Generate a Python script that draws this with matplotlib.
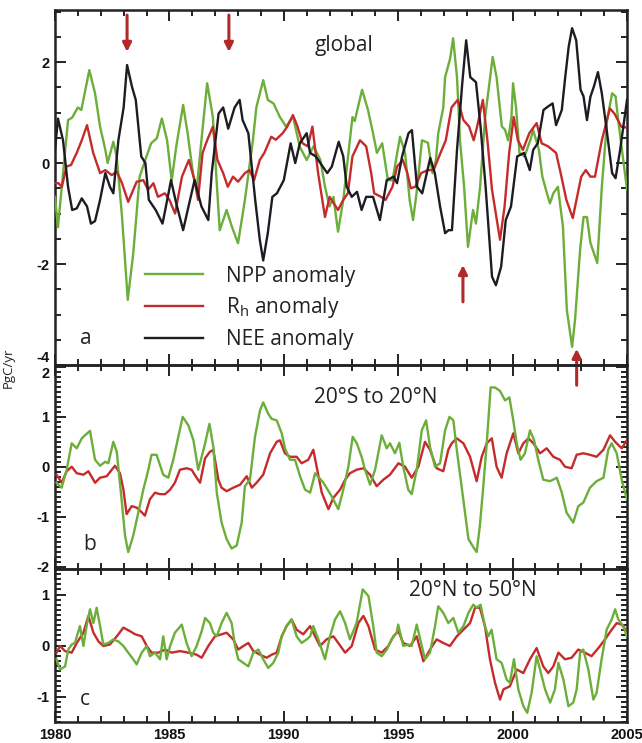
import matplotlib
matplotlib.use("Agg")
import matplotlib.pyplot as plt
from matplotlib.ticker import MultipleLocator, FixedLocator
import numpy as np

plt.rcParams['font.family'] = ['Open Sans', 'DejaVu Sans']
plt.rcParams['mathtext.fontset'] = 'custom'
plt.rcParams['mathtext.rm'] = 'Open Sans'
plt.rcParams['mathtext.it'] = 'Open Sans'
plt.rcParams['axes.unicode_minus'] = False

GREEN = '#6cae3a'
RED = '#c52b2b'
BLACK = '#1c1c22'
ARROW = '#b3292b'

# ---- panel a: global ----
npp_a_t = [1980.0, 1980.13, 1980.57, 1980.75, 1981.0, 1981.15, 1981.5, 1981.75, 1981.97, 1982.2, 1982.3,
           1982.55, 1982.7, 1982.93, 1983.18, 1983.42, 1983.7, 1984.0, 1984.2, 1984.45, 1984.67, 1984.9,
           1985.1, 1985.3, 1985.6, 1985.8, 1986.05, 1986.2, 1986.4, 1986.65, 1986.9, 1987.07, 1987.2,
           1987.5, 1987.73, 1988.0, 1988.3, 1988.65, 1988.8, 1989.1, 1989.3, 1989.55, 1989.83, 1990.1,
           1990.4, 1990.7, 1991.0, 1991.3, 1991.6, 1991.8, 1992.0, 1992.17, 1992.37, 1992.6, 1993.0,
           1993.1, 1993.42, 1993.68, 1993.9, 1994.07, 1994.3, 1994.55, 1994.75, 1995.08, 1995.3, 1995.5,
           1995.65, 1995.8, 1996.04, 1996.3, 1996.5, 1996.65, 1996.75, 1996.97, 1997.05, 1997.27, 1997.4,
           1997.57, 1997.7, 1997.88, 1998.05, 1998.27, 1998.4, 1998.58, 1998.8, 1999.13, 1999.3, 1999.53,
           1999.67, 1999.8, 1999.95, 2000.02, 2000.15, 2000.3, 2000.52, 2000.77, 2000.9, 2001.15, 2001.3,
           2001.5, 2001.63, 2001.78, 2001.98, 2002.2, 2002.37, 2002.6, 2002.73, 2002.95, 2003.1, 2003.25,
           2003.4, 2003.7, 2003.9, 2004.13, 2004.35, 2004.5, 2004.6, 2004.78, 2005.0]
npp_a = [-0.67, -1.27, 0.85, 0.9, 1.1, 1.05, 1.84, 1.38, 0.72, 0.26, 0.0,
         0.42, 0.12, -1.07, -2.71, -1.79, -0.27, 0.13, 0.39, 0.49, 0.88, 0.45,
         -0.35, 0.33, 1.15, 0.58, -0.27, -0.5, 0.45, 1.58, 0.91, -0.4, -1.33,
         -0.93, -1.26, -1.59, -0.73, 0.45, 1.1, 1.64, 1.25, 1.18, 0.91, 0.72,
         0.92, 0.32, 0.06, 0.33, 0.06, -0.47, -0.86, -0.67, -1.36, -0.73, 0.91,
         0.83, 1.45, 1.05, 0.59, 0.2, 0.39, -0.34, -0.34, 0.52, 0.2, -0.73,
         -1.13, -0.6, 0.45, 0.4, -0.2, 0.06, 0.59, 1.1, 1.7, 2.07, 2.47,
         1.7, 0.45, -0.47, -1.66, -0.93, -1.2, -0.47, 0.91, 2.1, 1.7, 0.72,
         0.66, 0.45, 0.91, 1.58, 1.1, 0.2, 0.13, 0.45, 0.65, 0.26, -0.27,
         -0.6, -0.8, -0.6, -0.47, -1.26, -2.91, -3.64, -3.1, -1.72, -1.07, -1.07,
         -1.58, -1.98, -0.47, 0.85, 1.38, 1.32, 0.91, 0.26, -0.53]

rh_a_t = [1980.0, 1980.15, 1980.3, 1980.5, 1980.7, 1980.95, 1981.17, 1981.4, 1981.67, 1981.97, 1982.2,
          1982.48, 1982.7, 1982.93, 1983.2, 1983.42, 1983.57, 1983.86, 1984.07, 1984.3, 1984.5, 1984.8,
          1985.0, 1985.25, 1985.55, 1985.85, 1986.1, 1986.25, 1986.45, 1986.65, 1986.9, 1987.1, 1987.35,
          1987.55, 1987.78, 1988.0, 1988.3, 1988.5, 1988.7, 1988.95, 1989.15, 1989.45, 1989.65, 1989.95,
          1990.15, 1990.4, 1990.6, 1990.82, 1991.05, 1991.25, 1991.5, 1991.8, 1992.0, 1992.37, 1992.6,
          1992.8, 1993.0, 1993.33, 1993.6, 1993.82, 1993.95, 1994.25, 1994.45, 1994.75, 1994.95, 1995.2,
          1995.4, 1995.55, 1995.75, 1996.0, 1996.3, 1996.55, 1996.85, 1997.08, 1997.33, 1997.6, 1997.85,
          1998.1, 1998.3, 1998.45, 1998.7, 1998.9, 1999.1, 1999.45, 1999.65, 1999.85, 2000.05, 2000.23,
          2000.45, 2000.73, 2001.05, 2001.27, 2001.55, 2001.9, 2002.1, 2002.35, 2002.63, 2002.85, 2003.0,
          2003.2, 2003.4, 2003.6, 2003.9, 2004.25, 2004.45, 2004.75, 2005.0]
rh_a = [-0.4, -0.4, -0.47, -0.07, -0.04, 0.2, 0.45, 0.75, 0.2, -0.2, -0.14,
        -0.24, -0.17, -0.4, -0.77, -0.53, -0.37, -0.34, -0.53, -0.4, -0.67, -0.6,
        -0.73, -1.0, -0.27, 0.06, -0.34, -0.73, 0.2, 0.45, 0.72, 0.06, -0.2,
        -0.47, -0.27, -0.37, -0.2, -0.14, -0.34, 0.06, 0.2, 0.52, 0.46, 0.59,
        0.72, 0.95, 0.72, 0.39, 0.33, 0.72, -0.2, -1.07, -0.67, -0.93, -0.73,
        -0.6, 0.13, 0.45, 0.33, -0.2, -0.6, -0.67, -0.73, -0.47, -0.07, 0.06,
        -0.2, -0.5, -0.47, -0.2, -0.14, -0.14, 0.2, 0.45, 1.1, 1.25, 0.85,
        0.72, 0.45, 0.72, 1.25, 0.45, -0.53, -1.52, -0.86, 0.2, 0.91, 0.45,
        0.26, 0.59, 0.79, 0.39, 0.33, 0.2, -0.2, -0.73, -1.09, -0.6, -0.27,
        -0.14, -0.27, -0.27, 0.45, 1.08, 0.98, 0.72, 0.7]

nee_a_t = [1980.0, 1980.13, 1980.35, 1980.57, 1980.75, 1980.95, 1981.17, 1981.4, 1981.57, 1981.75, 1981.97,
           1982.2, 1982.4, 1982.55, 1982.77, 1983.0, 1983.15, 1983.37, 1983.53, 1983.77, 1983.95, 1984.1,
           1984.4, 1984.7, 1984.93, 1985.07, 1985.3, 1985.6, 1985.8, 1986.1, 1986.4, 1986.7, 1986.85,
           1987.15, 1987.35, 1987.57, 1987.85, 1988.07, 1988.2, 1988.45, 1988.75, 1988.95, 1989.1, 1989.3,
           1989.5, 1989.7, 1990.0, 1990.3, 1990.5, 1990.7, 1991.0, 1991.15, 1991.4, 1991.7, 1991.9,
           1992.1, 1992.4, 1992.6, 1992.75, 1992.97, 1993.2, 1993.4, 1993.6, 1993.9, 1994.2, 1994.5,
           1994.8, 1994.95, 1995.17, 1995.45, 1995.6, 1995.82, 1996.05, 1996.25, 1996.4, 1996.6, 1996.83,
           1997.05, 1997.2, 1997.35, 1997.57, 1997.8, 1997.97, 1998.15, 1998.4, 1998.6, 1998.82, 1999.1,
           1999.27, 1999.5, 1999.7, 1999.93, 2000.2, 2000.5, 2000.75, 2000.9, 2001.1, 2001.35, 2001.55,
           2001.75, 2001.9, 2002.15, 2002.3, 2002.45, 2002.6, 2002.78, 2002.97, 2003.1, 2003.25, 2003.4,
           2003.55, 2003.73, 2003.9, 2004.13, 2004.35, 2004.5, 2004.7, 2005.0]
nee_a = [0.26, 0.88, 0.45, -0.47, -0.93, -0.9, -0.7, -0.86, -1.2, -1.15, -0.73,
         -0.2, -0.47, -0.6, 0.45, 1.1, 1.94, 1.5, 1.25, 0.13, 0.0, -0.73,
         -0.93, -1.2, -0.67, -0.34, -0.8, -1.33, -0.93, -0.34, -0.86, -1.13, -0.2,
         0.98, 1.1, 0.68, 1.1, 1.25, 0.85, 0.59, -0.73, -1.52, -1.93, -1.39,
         -0.67, -0.6, -0.34, 0.39, 0.0, 0.39, 0.59, 0.2, 0.13, -0.07, -0.2,
         -0.07, 0.42, 0.13, -0.47, -0.67, -0.57, -0.93, -0.67, -0.67, -1.13, -0.34,
         -0.27, -0.4, 0.13, 0.59, 0.65, -0.47, -0.6, -0.2, 0.1, -0.2, -0.86,
         -1.39, -1.33, -1.33, 0.26, 1.58, 2.43, 1.7, 1.6, 0.72, -0.47, -2.25,
         -2.42, -2.05, -1.13, -0.86, 0.13, 0.2, -0.14, 0.26, 0.39, 1.05, 1.12,
         1.18, 0.75, 1.05, 1.7, 2.3, 2.67, 2.43, 1.45, 1.32, 0.85, 1.31,
         1.51, 1.8, 1.38, 0.59, -0.2, -0.3, 0.26, 1.25]

# ---- panel b: 20S to 20N ----
npp_b_t = [1980.07, 1980.29, 1980.51, 1980.73, 1980.95, 1981.17, 1981.31, 1981.53, 1981.75, 1981.97, 1982.19,
           1982.33, 1982.55, 1982.7, 1982.91, 1983.06, 1983.2, 1983.42, 1983.64, 1983.86, 1984.08, 1984.22,
           1984.44, 1984.73, 1984.95, 1985.17, 1985.39, 1985.58, 1985.83, 1986.05, 1986.26, 1986.41, 1986.56,
           1986.75, 1986.92, 1987.07, 1987.28, 1987.5, 1987.72, 1987.94, 1988.16, 1988.3, 1988.52, 1988.74,
           1988.96, 1989.1, 1989.32, 1989.47, 1989.69, 1989.91, 1990.05, 1990.27, 1990.49, 1990.71, 1990.93,
           1991.15, 1991.37, 1991.73, 1992.09, 1992.38, 1992.6, 1992.82, 1993.01, 1993.19, 1993.4, 1993.55,
           1993.77, 1993.99, 1994.28, 1994.5, 1994.64, 1994.86, 1995.05, 1995.22, 1995.44, 1995.59, 1995.81,
           1996.03, 1996.22, 1996.39, 1996.61, 1996.83, 1997.05, 1997.24, 1997.41, 1997.56, 1997.77, 1997.92,
           1998.07, 1998.28, 1998.43, 1998.57, 1998.72, 1998.87, 1999.04, 1999.23, 1999.45, 1999.67, 1999.86,
           2000.03, 2000.18, 2000.35, 2000.54, 2000.76, 2000.94, 2001.12, 2001.34, 2001.64, 2001.93, 2002.15,
           2002.36, 2002.65, 2002.87, 2003.09, 2003.38, 2003.67, 2003.97, 2004.18, 2004.33, 2004.55, 2004.77,
           2004.99]
npp_b = [-0.32, -0.42, -0.06, 0.47, 0.37, 0.57, 0.63, 0.72, 0.14, 0.02, 0.1,
         0.07, 0.5, 0.3, -0.65, -1.38, -1.71, -1.38, -0.92, -0.46, -0.06, 0.24,
         0.24, -0.16, -0.22, 0.14, 0.6, 1.0, 0.83, 0.53, -0.06, 0.2, 0.47,
         0.86, 0.4, -0.52, -1.12, -1.45, -1.64, -1.58, -1.12, -0.39, -0.26, 0.6,
         1.13, 1.29, 1.06, 0.96, 0.93, 0.67, 0.37, 0.14, 0.14, -0.19, -0.46,
         -0.52, -0.13, -0.32, -0.59, -0.85, -0.46, 0.0, 0.6, 0.47, 0.2, -0.06,
         -0.36, -0.06, 0.63, 0.37, 0.47, 0.27, 0.48, 0.0, -0.46, -0.55, -0.06,
         0.73, 0.93, 0.4, 0.0, 0.07, 0.73, 1.0, 0.93, 0.34, -0.39, -0.92,
         -1.45, -1.61, -1.71, -1.18, -0.39, 0.47, 1.59, 1.59, 1.52, 1.33, 1.39,
         0.93, 0.47, 0.14, 0.27, 0.73, 0.53, 0.14, -0.26, -0.29, -0.22, -0.52,
         -0.92, -1.12, -0.79, -0.72, -0.42, -0.29, -0.22, 0.34, 0.47, 0.27, -0.26,
         -0.65]

rh_b_t = [1980.07, 1980.29, 1980.51, 1980.73, 1980.95, 1981.24, 1981.46, 1981.75, 1981.97, 1982.26, 1982.62,
          1982.84, 1982.99, 1983.13, 1983.35, 1983.57, 1983.72, 1983.93, 1984.15, 1984.37, 1984.59, 1984.81,
          1985.03, 1985.24, 1985.46, 1985.75, 1985.97, 1986.19, 1986.34, 1986.56, 1986.77, 1986.92, 1987.14,
          1987.28, 1987.5, 1987.79, 1988.09, 1988.38, 1988.6, 1988.81, 1989.1, 1989.4, 1989.69, 1989.83,
          1990.05, 1990.27, 1990.56, 1990.78, 1991.07, 1991.29, 1991.66, 1991.95, 1992.17, 1992.46, 1992.68,
          1992.89, 1993.18, 1993.48, 1993.77, 1994.06, 1994.35, 1994.64, 1995.01, 1995.3, 1995.59, 1995.88,
          1996.17, 1996.39, 1996.68, 1996.97, 1997.19, 1997.34, 1997.56, 1997.85, 1998.14, 1998.43, 1998.65,
          1998.87, 1999.09, 1999.3, 1999.52, 1999.74, 2000.03, 2000.25, 2000.47, 2000.69, 2000.91, 2001.2,
          2001.49, 2001.78, 2002.07, 2002.29, 2002.58, 2002.8, 2003.09, 2003.38, 2003.67, 2003.97, 2004.26,
          2004.48, 2004.77, 2004.99]
rh_b = [-0.16, -0.32, -0.09, 0.0, -0.13, -0.16, -0.09, -0.32, -0.22, -0.19, 0.02,
        -0.13, -0.46, -0.95, -0.79, -0.82, -0.88, -0.98, -0.65, -0.52, -0.55, -0.55,
        -0.46, -0.32, -0.06, -0.03, -0.06, -0.22, -0.32, 0.17, 0.3, 0.34, -0.26,
        -0.42, -0.49, -0.42, -0.36, -0.19, -0.42, -0.32, -0.16, 0.27, 0.5, 0.53,
        0.27, 0.2, 0.2, 0.07, 0.14, 0.34, -0.52, -0.85, -0.62, -0.46, -0.26,
        -0.13, -0.06, -0.03, -0.16, -0.39, -0.26, -0.16, 0.07, 0.0, -0.22, 0.0,
        0.5, 0.34, -0.03, -0.09, 0.34, 0.47, 0.57, 0.47, 0.2, -0.29, 0.2,
        0.47, 0.57, 0.0, -0.22, 0.27, 0.67, 0.27, 0.47, 0.57, 0.47, 0.27,
        0.37, 0.2, 0.14, 0.0, -0.03, 0.24, 0.27, 0.24, 0.2, 0.34, 0.63,
        0.5, 0.37, 0.53]

# ---- panel c: 20N to 50N ----
npp_c_t = [1980.07, 1980.22, 1980.44, 1980.58, 1980.73, 1980.87, 1981.09, 1981.24, 1981.38, 1981.53, 1981.68,
           1981.82, 1981.97, 1982.11, 1982.33, 1982.55, 1982.77, 1982.99, 1983.2, 1983.42, 1983.57, 1983.79,
           1984.01, 1984.15, 1984.37, 1984.59, 1984.73, 1984.88, 1985.03, 1985.24, 1985.54, 1985.75, 1985.97,
           1986.19, 1986.41, 1986.56, 1986.77, 1986.92, 1987.07, 1987.28, 1987.5, 1987.72, 1987.87, 1988.01,
           1988.23, 1988.45, 1988.67, 1988.89, 1989.1, 1989.32, 1989.54, 1989.76, 1989.91, 1990.12, 1990.34,
           1990.56, 1990.78, 1991.0, 1991.15, 1991.29, 1991.51, 1991.8, 1992.02, 1992.24, 1992.46, 1992.68,
           1992.89, 1993.18, 1993.45, 1993.7, 1993.91, 1994.06, 1994.28, 1994.5, 1994.71, 1994.93, 1995.0,
           1995.22, 1995.44, 1995.59, 1995.81, 1996.03, 1996.17, 1996.39, 1996.61, 1996.75, 1996.97, 1997.19,
           1997.41, 1997.63, 1997.85, 1998.07, 1998.28, 1998.43, 1998.6, 1998.79, 1998.94, 1999.08, 1999.3,
           1999.52, 1999.74, 1999.88, 2000.06, 2000.25, 2000.47, 2000.64, 2000.83, 2001.05, 2001.2, 2001.42,
           2001.64, 2001.85, 2002.0, 2002.22, 2002.44, 2002.65, 2002.8, 2002.95, 2003.09, 2003.31, 2003.53,
           2003.67, 2003.89, 2004.11, 2004.33, 2004.48, 2004.62, 2004.84, 2004.99]
npp_c = [-0.27, -0.47, -0.41, -0.08, 0.02, 0.05, 0.38, -0.01, 0.38, 0.71, 0.44,
         0.74, 0.38, 0.02, 0.05, 0.12, 0.08, -0.01, -0.14, -0.27, -0.37, -0.14,
         -0.01, -0.21, -0.14, -0.27, 0.18, -0.27, -0.01, 0.25, 0.41, 0.05, -0.21,
         -0.01, 0.28, 0.54, 0.44, 0.25, 0.18, 0.44, 0.64, 0.44, -0.01, -0.27,
         -0.34, -0.41, -0.14, -0.08, -0.27, -0.44, -0.34, -0.14, 0.18, 0.38, 0.51,
         0.18, 0.05, 0.12, 0.18, 0.38, 0.12, -0.27, 0.18, 0.51, 0.67, 0.44,
         0.12, 0.44, 1.1, 0.97, 0.38, -0.14, -0.21, -0.08, 0.12, 0.25, 0.41,
         -0.01, 0.02, -0.01, 0.41, -0.01, -0.27, -0.14, 0.38, 0.77, 0.64, 0.44,
         0.54, 0.25, 0.38, 0.64, 0.8, 0.74, 0.8, 0.38, 0.18, 0.31, -0.27,
         -0.34, -0.67, -0.73, -0.27, -0.86, -1.19, -1.32, -0.93, -0.21, -0.47, -0.86,
         -1.12, -0.86, -0.34, -0.67, -1.19, -1.12, -0.86, -0.14, -0.08, -0.47, -1.06,
         -0.93, -0.27, 0.31, 0.51, 0.71, 0.51, 0.38, 0.18]

rh_c_t = [1980.07, 1980.22, 1980.44, 1980.73, 1980.95, 1981.24, 1981.46, 1981.68, 1981.9, 1982.11, 1982.4,
          1982.7, 1982.99, 1983.28, 1983.5, 1983.79, 1984.01, 1984.22, 1984.52, 1984.81, 1985.1, 1985.46,
          1985.83, 1986.19, 1986.41, 1986.7, 1986.99, 1987.28, 1987.5, 1987.79, 1988.01, 1988.23, 1988.45,
          1988.67, 1988.96, 1989.25, 1989.47, 1989.69, 1989.91, 1990.12, 1990.34, 1990.56, 1990.85, 1991.15,
          1991.37, 1991.58, 1991.87, 1992.17, 1992.38, 1992.68, 1992.97, 1993.26, 1993.48, 1993.7, 1993.99,
          1994.28, 1994.57, 1994.79, 1995.01, 1995.22, 1995.52, 1995.81, 1996.1, 1996.39, 1996.68, 1996.97,
          1997.26, 1997.56, 1997.85, 1998.14, 1998.36, 1998.57, 1998.79, 1999.01, 1999.23, 1999.45, 1999.6,
          1999.88, 2000.18, 2000.47, 2000.76, 2001.05, 2001.34, 2001.56, 2001.78, 2002.0, 2002.29, 2002.58,
          2002.87, 2003.16, 2003.45, 2003.75, 2004.04, 2004.33, 2004.55, 2004.77, 2004.99]
rh_c = [-0.14, -0.01, -0.11, -0.14, 0.05, 0.25, 0.58, 0.25, 0.08, -0.01, 0.02,
        0.18, 0.35, 0.28, 0.22, 0.18, -0.01, -0.14, -0.14, -0.08, -0.14, -0.11,
        -0.14, -0.18, -0.24, -0.01, 0.18, 0.22, 0.25, 0.12, -0.08, -0.01, 0.05,
        -0.11, -0.18, -0.24, -0.18, -0.14, 0.18, 0.38, 0.51, 0.31, 0.22, 0.38,
        0.18, -0.01, 0.12, 0.18, 0.05, -0.14, -0.01, 0.44, 0.58, 0.38, -0.08,
        -0.14, -0.01, 0.18, 0.28, 0.05, -0.01, 0.18, -0.31, -0.08, 0.12, 0.05,
        -0.01, 0.18, 0.31, 0.44, 0.74, 0.74, 0.38, -0.27, -0.73, -1.06, -0.86,
        -0.8, -0.47, -0.54, -0.27, -0.05, -0.41, -0.54, -0.41, -0.14, -0.27, -0.24,
        -0.08, -0.14, -0.21, -0.05, 0.12, 0.31, 0.44, 0.41, 0.28]

year_ticks = [1980, 1985, 1990, 1995, 2000, 2005]
a_ticks = [-4, -2, 0, 2]
b_ticks = [-2, -1, 0, 1, 2]
c_ticks = [-1, 0, 1]
arrows_down = [1983.15, 1987.6]
arrows_up = [(1997.83, -2.75, -2.02), (2002.8, -4.4, -3.68)]

fig = plt.figure(figsize=(6.42, 7.43), dpi=100)
W, H = 642.0, 743.0
left, right = 55 / W, 627 / W


def box(top, bottom):
    return [left, 1 - bottom / H, right - left, (bottom - top) / H]


ax_a = fig.add_axes(box(10, 365))
ax_b = fig.add_axes(box(365, 569))
ax_c = fig.add_axes(box(569, 722))

tick_font = dict(fontfamily='Liberation Sans', fontweight='bold', fontsize=10.5, color='#111111')

for ax in (ax_a, ax_b, ax_c):
    ax.set_facecolor('none')
    ax.set_xlim(1980, 2005)
    ax.xaxis.set_minor_locator(MultipleLocator(1))
    ax.tick_params(which='both', direction='in', top=True, right=True, width=1.4,
                   color='#222222', pad=4)
    ax.tick_params(which='major', length=8)
    ax.tick_params(which='minor', length=4)
    for s in ax.spines.values():
        s.set_linewidth(1.8)
        s.set_color('#222222')

ax_a.set_xticks(year_ticks, [''] * len(year_ticks))
ax_b.set_xticks(year_ticks, [''] * len(year_ticks))
ax_c.set_xticks(year_ticks, [str(y) for y in year_ticks], **tick_font)

lw = 1.7
ax_a.plot(npp_a_t, npp_a, color=GREEN, lw=lw, label='NPP anomaly', zorder=3)
ax_a.plot(rh_a_t, rh_a, color=RED, lw=lw, label=r'R$_\mathrm{h}$ anomaly', zorder=4)
ax_a.plot(nee_a_t, nee_a, color=BLACK, lw=lw, label='NEE anomaly', zorder=5)
ax_a.set_ylim(-4, 3.03)
ax_a.set_yticks(a_ticks, [str(v) for v in a_ticks], **tick_font)
ax_a.yaxis.set_minor_locator(MultipleLocator(0.5))

ax_b.plot(rh_b_t, rh_b, color=RED, lw=lw, zorder=3)
ax_b.plot(npp_b_t, npp_b, color=GREEN, lw=lw, zorder=4)
ax_b.set_ylim(-2.05, 2.04)
ax_b.set_yticks(b_ticks, [str(v) for v in b_ticks], **tick_font)
ax_b.yaxis.set_minor_locator(MultipleLocator(0.1))

ax_c.plot(rh_c_t, rh_c, color=RED, lw=lw, zorder=3)
ax_c.plot(npp_c_t, npp_c, color=GREEN, lw=lw, zorder=4)
ax_c.set_ylim(-1.5, 1.5)
ax_c.set_yticks(c_ticks, [str(v) for v in c_ticks], **tick_font)
ax_c.yaxis.set_minor_locator(MultipleLocator(0.1))

# keep the stacked edge labels apart
ax_a.get_yticklabels()[0].set_va('bottom')
ax_b.get_yticklabels()[-1].set_va('top')

# panel texts
ax_a.text(0.505, 0.9, 'global', transform=ax_a.transAxes, fontsize=15, ha='center', va='center', color='#222222')
ax_b.text(0.56, 0.84, '20°S to 20°N', transform=ax_b.transAxes, fontsize=15, ha='center', va='center', color='#222222')
ax_c.text(0.73, 0.86, '20°N to 50°N', transform=ax_c.transAxes, fontsize=15, ha='center', va='center', color='#222222')
ax_a.text(0.053, 0.075, 'a', transform=ax_a.transAxes, fontsize=15, ha='center', va='center', color='#222222')
ax_b.text(0.06, 0.12, 'b', transform=ax_b.transAxes, fontsize=15, ha='center', va='center', color='#222222')
ax_c.text(0.053, 0.15, 'c', transform=ax_c.transAxes, fontsize=15, ha='center', va='center', color='#222222')

leg = ax_a.legend(loc='upper left', bbox_to_anchor=(0.157, 0.28), frameon=False, fontsize=15,
                  handlelength=2.8, handletextpad=1.1, labelspacing=0.42, borderpad=0, borderaxespad=0)
for t in leg.get_texts():
    t.set_color('#222222')

fig.text(8 / W, 1 - 368 / H, 'PgC/yr', rotation=90, fontsize=9.5, ha='center', va='center', color='#222222')

# arrows
for x in arrows_down:
    ax_a.annotate('', xy=(x, 2.2), xytext=(x, 2.93),
                  arrowprops=dict(arrowstyle='-|>', color=ARROW, lw=2.2, mutation_scale=13,
                                  shrinkA=0, shrinkB=0), annotation_clip=False, zorder=6)
for x, y0, y1 in arrows_up:
    ax_a.annotate('', xy=(x, y1), xytext=(x, y0),
                  arrowprops=dict(arrowstyle='-|>', color=ARROW, lw=2.2, mutation_scale=13,
                                  shrinkA=0, shrinkB=0), annotation_clip=False, zorder=6)

fig.savefig('out.png', dpi=100)
